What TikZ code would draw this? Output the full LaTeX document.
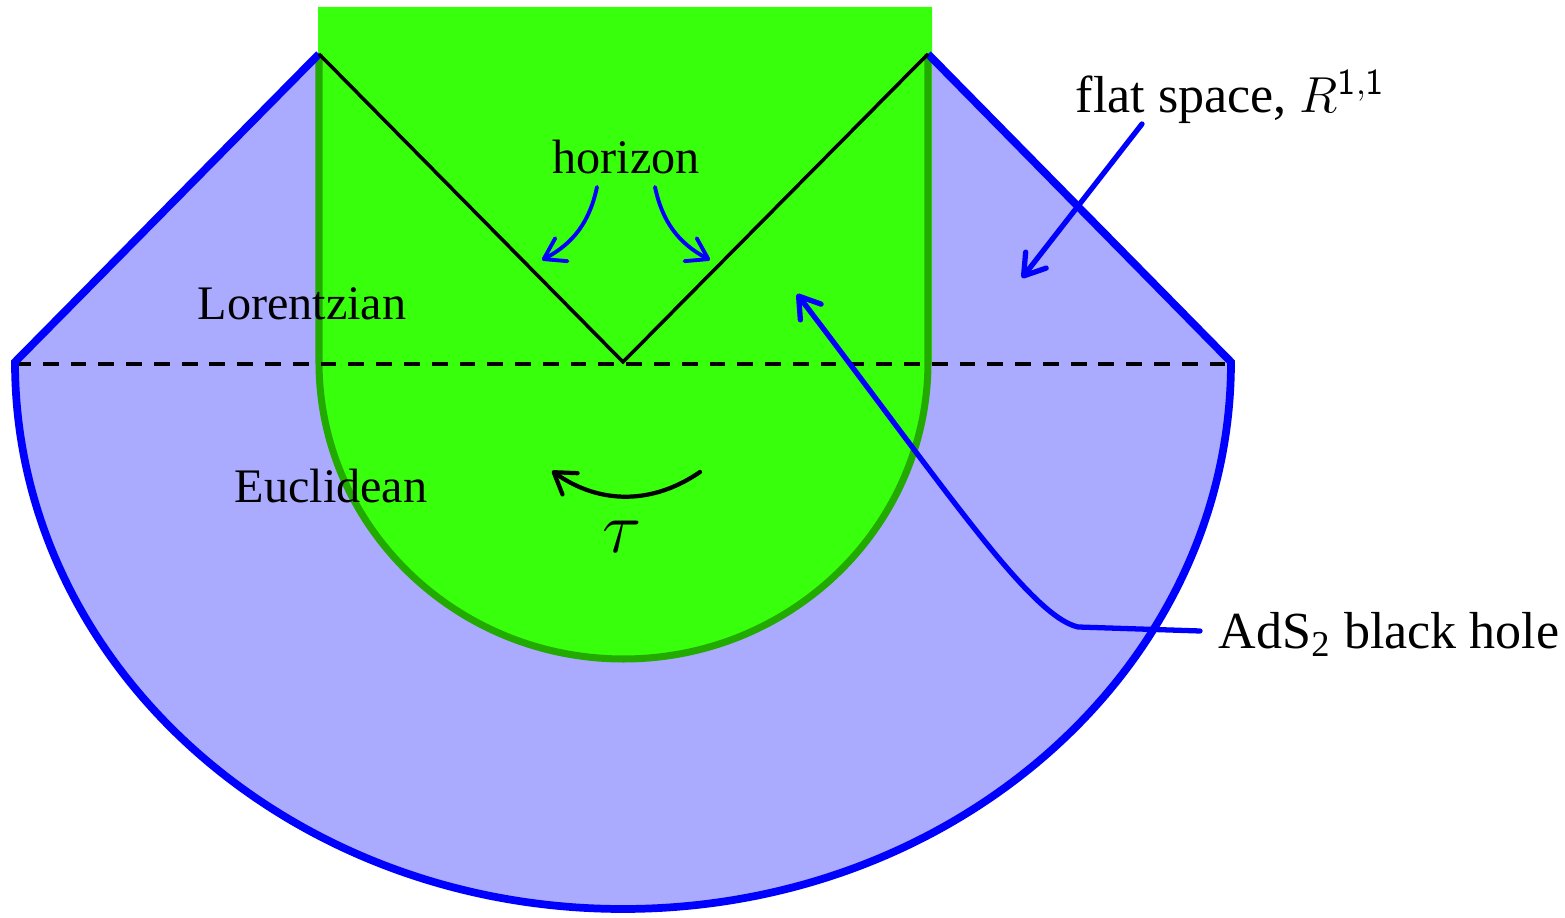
\documentclass[tikz,border=0pt]{standalone}
\usepackage{fontspec}
\setmainfont{Liberation Serif}
\usetikzlibrary{arrows.meta}
\definecolor{lblue}{RGB}{170,170,255}
\definecolor{lgreen}{RGB}{56,255,12}
\definecolor{dgreen}{RGB}{34,170,0}
\definecolor{pblue}{RGB}{0,0,255}
\begin{document}
\begin{tikzpicture}[x=0.01cm,y=0.01cm,
  arr/.style={-{Straight Barb[length=2mm,width=2.6mm,round]}, line cap=round},
  biglabel/.style={font=\fontsize{14.8}{18}\selectfont, inner sep=0pt},
  reglabel/.style={font=\fontsize{13.7}{16}\selectfont, inner sep=0pt}]
\useasboundingbox (0,0) rectangle (1565,918);
% coordinates
\coordinate (C) at (623,556);
\coordinate (L) at (15,556);
\coordinate (R) at (1231,556);
\coordinate (PL) at (319,864);
\coordinate (PR) at (928,864);
% blue region
\fill[lblue] (L) -- (PL) -- (PR) -- (R) arc[start angle=0,end angle=-180,x radius=608,y radius=547] -- cycle;
% green region
\fill[lgreen] (318,556) -- (318,911) -- (932,911) -- (932,556) -- (928,556)
  arc[start angle=0,end angle=-180,x radius=304.5,y radius=297] -- cycle;
\draw[dgreen, line width=2pt] (PL) -- (319,556) arc[start angle=180,end angle=360,x radius=304.5,y radius=297] -- (PR);
% dashed line
\draw[line width=1pt, dash pattern=on 4.5pt off 3.4pt] (15,554) -- (1231,554);
% blue outline
\draw[pblue, line width=2.2pt, line join=miter] (PL) -- (L) arc[start angle=180,end angle=360,x radius=608,y radius=547] -- (PR);
% horizon lines
\draw[line width=1pt] (PL) -- (C) -- (PR);
% labels
\node[reglabel, anchor=base] (hor) at (626,744) {horizon};
\node[reglabel, anchor=base] (lor) at (302,598) {Lorentzian};
\node[reglabel, anchor=base] (euc) at (331,415) {Euclidean};
\node[inner sep=0pt, anchor=base, font=\fontsize{20}{24}\selectfont] (tau) at (622,365) {$\tau$};
\node[biglabel, anchor=base west] (flat) at (1075,805) {flat space, $R^{\mathsf{1,1}}$};
\node[biglabel, anchor=base west] (ads) at (1218,269) {AdS\textsubscript{2} black hole};
% arrows
\coordinate (hl1) at (597,731); \coordinate (hl2) at (542,658);
\coordinate (hr1) at (655,731); \coordinate (hr2) at (710,658);
\draw[arr, pblue, line width=1.1pt] (hl1) to[bend left=25] (hl2);
\draw[arr, pblue, line width=1.1pt] (hr1) to[bend right=25] (hr2);
\coordinate (t1) at (700,446); \coordinate (t2) at (552,447);
\draw[arr, line width=1.2pt] (t1) to[bend left=35] (t2);
\coordinate (f1) at (1142,794); \coordinate (f2) at (1022,640);
\draw[arr, pblue, line width=1.5pt] (f1) -- (f2);
\coordinate (a1) at (1200,287); \coordinate (a2) at (1078,291); \coordinate (a3) at (797,624);
\draw[arr, pblue, line width=1.5pt] (a1) -- (a2) .. controls (1030,302) and (945,430) .. (a3);
\end{tikzpicture}
\end{document}
